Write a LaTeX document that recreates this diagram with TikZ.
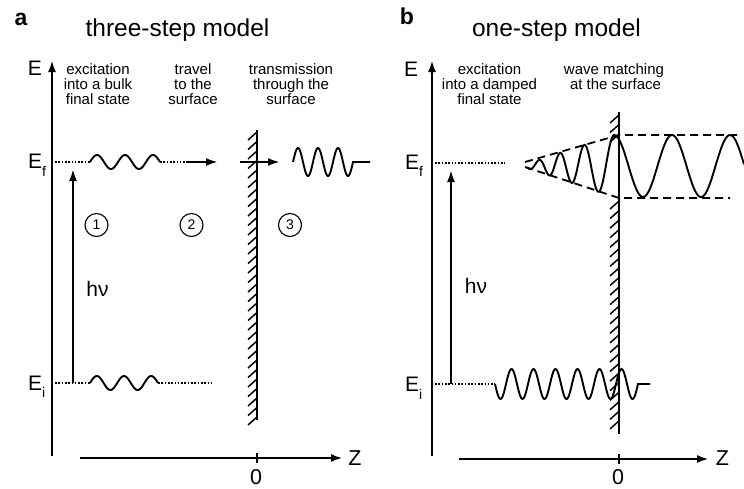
\documentclass[tikz,border=0pt]{standalone}
\usepackage{fontspec}
\setmainfont{Liberation Sans}
\usetikzlibrary{arrows.meta}
\newcommand{\mysub}[1]{\raisebox{-7.5pt}{\fontsize{14}{14}\selectfont #1}}
\begin{document}
\begin{tikzpicture}[x=1pt,y=-1pt,
  tip/.style={-{Latex[length=12pt,width=8pt]}},
  axisline/.style={line width=2.5pt,tip},
  hvarrow/.style={line width=2.1pt,tip},
  flyarrow/.style={line width=2.1pt,tip},
  surf/.style={line width=2.5pt},
  hatch/.style={line width=1.5pt},
  wave/.style={line width=1.9pt},
  dotline/.style={line width=1.8pt,dash pattern=on 1.6pt off 1.7pt},
  dashline/.style={line width=1.8pt,dash pattern=on 8pt off 5pt},
  title/.style={font=\fontsize{24.5}{26}\selectfont,anchor=base,inner sep=0pt},
  panel/.style={font=\fontsize{23}{24}\selectfont\bfseries,anchor=base,inner sep=0pt},
  lbl/.style={font=\fontsize{15}{15}\selectfont,anchor=base,inner sep=0pt},
  biglbl/.style={font=\fontsize{21}{22}\selectfont,inner sep=0pt},
  axlbl/.style={font=\fontsize{21.5}{23}\selectfont,inner sep=0pt},
  lvl/.style={font=\fontsize{21}{22}\selectfont,anchor=base west,inner sep=0pt},
  circnum/.style={draw,circle,line width=1.1pt,minimum size=23pt,inner sep=0pt,font=\fontsize{14}{14}\selectfont}]
\path[use as bounding box] (0,0) rectangle (744,488);

% ================= panel a =================
\node[panel] (pa) at (21,25) {a};
\node[title] (ta) at (177.5,36.5) {three-step model};

\coordinate (Ea0) at (52,456); \coordinate (Ea1) at (52,60);
\draw[axisline] (Ea0) -- (Ea1);
\node[biglbl] (EaL) at (35,68.5) {E};

\node[lbl] (a11) at (98,74) {excitation};
\node[lbl] (a12) at (98,89) {into a bulk};
\node[lbl] (a13) at (98,104) {final state};
\node[lbl] (a21) at (193,74) {travel};
\node[lbl] (a22) at (193,89) {to the};
\node[lbl] (a23) at (193,104) {surface};
\node[lbl] (a31) at (291,74) {transmission};
\node[lbl] (a32) at (291,89) {through the};
\node[lbl] (a33) at (291,104) {surface};

% surface a
\coordinate (Sa0) at (257,130); \coordinate (Sa1) at (257,420);
\draw[surf] (Sa0) -- (Sa1);
\foreach \k in {0,...,30}{
  \draw[hatch] (248,{132+9.5*\k+8}) -- (257,{132+9.5*\k});
}

% Ef level a
\node[lvl] (EfaL) at (28,168.5) {E\mysub{f}};
\coordinate (fa0) at (55,162); \coordinate (fa1) at (90,162);
\coordinate (fa2) at (160,162); \coordinate (fa3) at (187,162);
\coordinate (fa4) at (218,162);
\draw[dotline] (fa0) -- (fa1);
\draw[wave] plot[domain=90:160,samples=90,variable=\x] ({\x},{162-7*sin(12.857*(\x-90))});
\draw[dotline] (fa2) -- (fa3);
\draw[flyarrow] (fa3) -- (fa4);
\coordinate (ta0) at (240,162); \coordinate (ta1) at (280,162);
\draw[flyarrow] (ta0) -- (ta1);
\draw[wave] plot[domain=293:353,samples=120,variable=\x] ({\x},{162-14*sin(18*(\x-293))}) -- (370,162);

% Ei level a
\node[lvl] (EiaL) at (28,390) {E\mysub{i}};
\coordinate (ia0) at (55,383); \coordinate (ia1) at (90,383);
\coordinate (ia2) at (158,383); \coordinate (ia3) at (212,383);
\draw[dotline] (ia0) -- (ia1);
\draw[wave] plot[domain=90:158,samples=90,variable=\x] ({\x},{383-7*sin(13.235*(\x-90))});
\draw[dotline] (ia2) -- (ia3);

% h nu a
\coordinate (ha0) at (73,383); \coordinate (ha1) at (73,169);
\draw[hvarrow] (ha0) -- (ha1);
\node[biglbl] (hva) at (97.5,289) {hν};

% circled numbers
\node[circnum] (c1) at (96.5,225) {1};
\node[circnum] (c2) at (191.5,225) {2};
\node[circnum] (c3) at (290,225) {3};

% Z axis a
\coordinate (Za0) at (80,458); \coordinate (Za1) at (343,458);
\draw[axisline] (Za0) -- (Za1);
\draw[line width=1.7pt] (257,453) -- (257,463);
\node[axlbl] (ZaL) at (355,458.5) {Z};
\node[axlbl] (Oa) at (256,477) {0};

% ================= panel b =================
\node[panel] (pb) at (407,24) {b};
\node[title] (tb) at (556.5,36.5) {one-step model};

\coordinate (Eb0) at (432,456); \coordinate (Eb1) at (432,60);
\draw[axisline] (Eb0) -- (Eb1);
\node[biglbl] (EbL) at (411,69.5) {E};

\node[lbl] (b11) at (489.5,74) {excitation};
\node[lbl] (b12) at (489.5,89) {into a damped};
\node[lbl] (b13) at (489.5,104) {final state};
\node[lbl] (b21) at (614,74) {wave matching};
\node[lbl] (b22) at (615.5,89) {at the surface};

% surface b
\coordinate (Sb0) at (619,112); \coordinate (Sb1) at (619,434);
\draw[surf] (Sb0) -- (Sb1);
\foreach \k in {0,1,2,9,10,...,32}{
  \draw[hatch] (610,{115+9.56*\k+8}) -- (619,{115+9.56*\k});
}

% Ef level b
\node[lvl] (EfbL) at (405,169) {E\mysub{f}};
\coordinate (fb0) at (435,163); \coordinate (fb1) at (505,163);
\draw[dotline] (fb0) -- (fb1);
\coordinate (du0) at (525,162); \coordinate (du1) at (619,135); \coordinate (du2) at (740,135);
\coordinate (dl0) at (525,167); \coordinate (dl1) at (619,198); \coordinate (dl2) at (730,198);
\draw[dashline] (du0) -- (du1) -- (du2);
\draw[dashline] (dl0) -- (dl1) -- (dl2);
\draw[wave] plot[domain=527:614,samples=200,variable=\x]
   ({\x},{166-(2+0.3333*(\x-527))*cos(deg(0.185*(614-\x)+0.000884*(614-\x)*(614-\x)))})
   -- plot[domain=614:744,samples=150,variable=\x] ({\x},{166-31*cos(6.2069*(\x-614))});

% Ei level b
\node[lvl] (EibL) at (405,391.5) {E\mysub{i}};
\coordinate (ib0) at (435,384); \coordinate (ib1) at (495,384);
\draw[dotline] (ib0) -- (ib1);
\draw[wave] plot[domain=495:638,samples=220,variable=\x] ({\x},{384+15*sin(16.3636*(\x-495))}) -- (650,384);

% h nu b
\coordinate (hb0) at (451,384); \coordinate (hb1) at (451,170);
\draw[hvarrow] (hb0) -- (hb1);
\node[biglbl] (hvb) at (476,286) {hν};

% Z axis b
\coordinate (Zb0) at (459,459); \coordinate (Zb1) at (709,459);
\draw[axisline] (Zb0) -- (Zb1);
\draw[line width=1.7pt] (619,454) -- (619,464);
\node[axlbl] (ZbL) at (722.5,458.5) {Z};
\node[axlbl] (Ob) at (618,477.5) {0};
\end{tikzpicture}
\end{document}
